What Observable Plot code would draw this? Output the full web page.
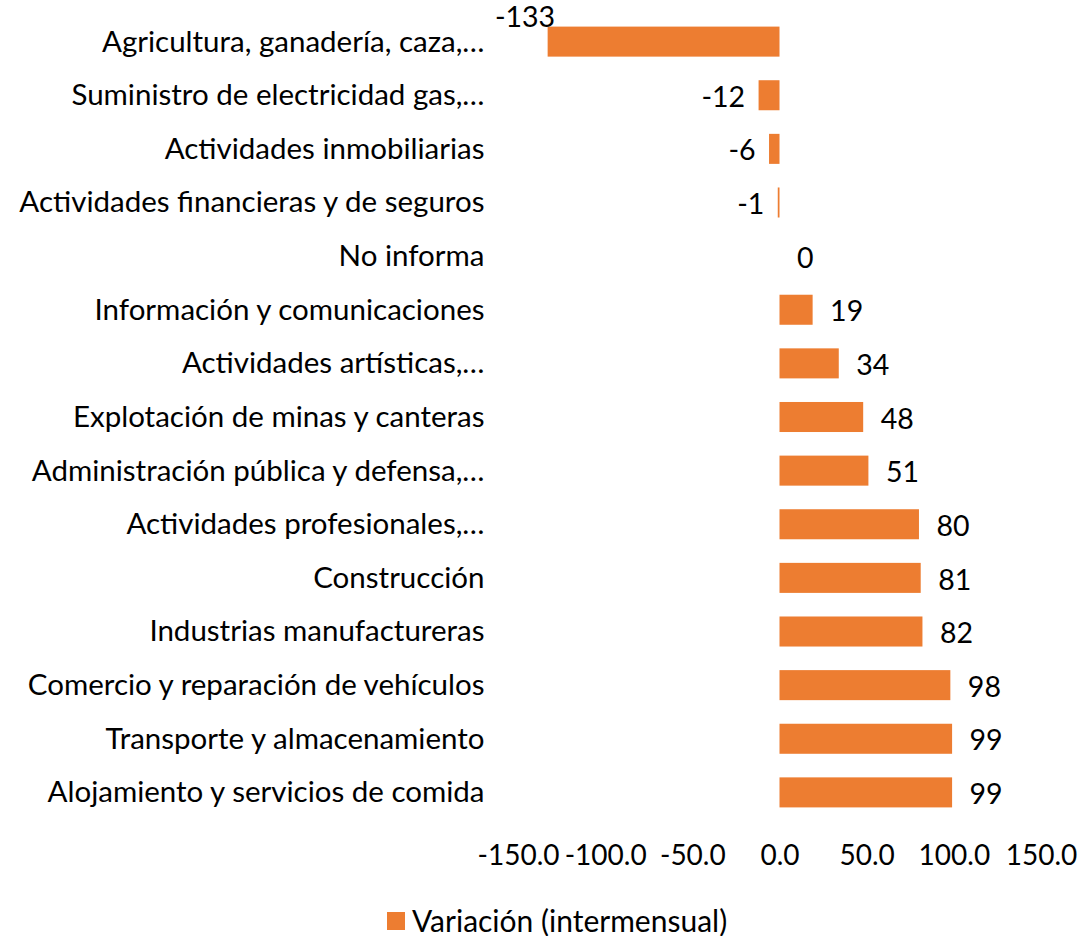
<!DOCTYPE html>
<html>
<head>
<meta charset="utf-8">
<script src="https://cdn.jsdelivr.net/npm/d3@7"></script>
<script src="https://cdn.jsdelivr.net/npm/@observablehq/plot@0.6"></script>
<style>
  html, body { margin: 0; padding: 0; background: #ffffff; }
  body { width: 1083px; height: 936px; position: relative; overflow: hidden; font-family: Lato, "Open Sans", sans-serif; }
  #chart { position: absolute; left: 0; top: 0; }
  #legend { position: absolute; top: 905px; left: 387px; display: flex; align-items: center; font-size: 30px; line-height: 30px; color: #000; font-family: Lato, sans-serif; }
  #legend .sw { width: 18px; height: 18px; background: #ED7D31; margin-right: 7px; margin-top: 2px; }
</style>
</head>
<body>
<div id="chart"></div>
<div id="legend"><span class="sw"></span><span>Variación (intermensual)</span></div>
<script>
const categories = [
  "Agricultura, ganadería, caza,…",
  "Suministro de electricidad gas,…",
  "Actividades inmobiliarias",
  "Actividades financieras y de seguros",
  "No informa",
  "Información y comunicaciones",
  "Actividades artísticas,…",
  "Explotación de minas y canteras",
  "Administración pública y defensa,…",
  "Actividades profesionales,…",
  "Construcción",
  "Industrias manufactureras",
  "Comercio y reparación de vehículos",
  "Transporte y almacenamiento",
  "Alojamiento y servicios de comida"
];
const values = [-133, -12, -6, -1, 0, 19, 34, 48, 51, 80, 81, 82, 98, 99, 99];
const xTicks = [-150, -100, -50, 0, 50, 100, 150];
const seriesName = "Variación (intermensual)";

const data = categories.map((c, i) => ({category: c, value: values[i]}));
const fmt = v => String(v);
const orange = "#ED7D31";

const plot = Plot.plot({
  width: 1083,
  height: 880,
  marginLeft: 518,
  marginRight: 42,
  marginTop: 3,
  marginBottom: 49,
  style: {fontFamily: "Lato, sans-serif", fontSize: "29.5px", color: "#000", background: "transparent", overflow: "visible"},
  x: {domain: [-150, 150], label: null},
  y: {domain: categories, padding: 0.44, round: false, tickSize: 0, tickPadding: 34, label: null},
  marks: [
    Plot.axisX({ticks: xTicks, tickFormat: d => d.toFixed(1), tickSize: 0, tickPadding: 14, fontSize: 28, label: null}),
    Plot.barX(data, {y: "category", x: "value", fill: orange}),
    Plot.ruleX([0], {stroke: "#d9d9d9", strokeWidth: 1.5, y1: categories[0], y2: categories[categories.length - 1], insetTop: -28, insetBottom: -16}),
    Plot.text(data.filter(d => d.value >= 0), {y: "category", x: "value", text: d => fmt(d.value), textAnchor: "start", dx: 17, dy: 2, fontSize: 28.5}),
    Plot.text(data.filter(d => d.value < 0 && d.value > -100), {y: "category", x: "value", text: d => fmt(d.value), textAnchor: "end", dx: -14, dy: 2, fontSize: 28.5}),
    Plot.text(data.filter(d => d.value <= -100), {y: "category", x: "value", text: d => fmt(d.value), textAnchor: "end", dx: 7, dy: -24, fontSize: 28.5})
  ]
});
document.getElementById("chart").appendChild(plot);
</script>
</body>
</html>
